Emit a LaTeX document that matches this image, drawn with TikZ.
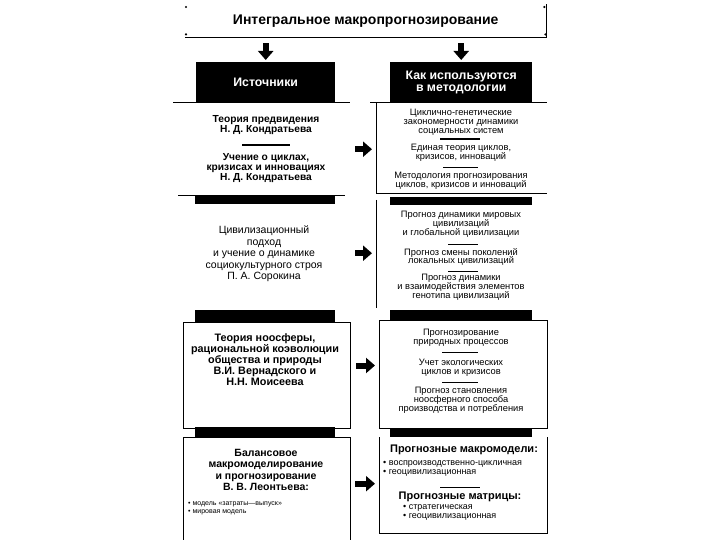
\documentclass[tikz,border=0pt]{standalone}
\usepackage{fontspec}
\setmainfont{Liberation Sans}
\usetikzlibrary{positioning,arrows.meta,calc}

\begin{document}
\begin{tikzpicture}[
            x=1pt, y=-1pt,
            font=\fontsize{9}{9}\selectfont,
            >={Triangle[width=15pt,length=9pt]},
            openframe/.style={
                    rectangle, draw=none, inner sep=0pt, anchor=north west
                },
            frame/.style={openframe, draw, line width=1pt},
            tab/.style={
                    rectangle, fill=black, inner sep=0pt, anchor=north west
                },
            headtext/.style={
                    text=white, align=center,
                    font=\fontsize{12.3}{11.5}\selectfont\bfseries
                },
            srctext/.style={align=center, font=\fontsize{10.2}{10.3}\selectfont\bfseries},
            srcplain/.style={align=center, font=\fontsize{10.5}{11.5}\selectfont},
            usetext/.style={align=center, font=\fontsize{9.3}{8.9}\selectfont},
            usehead/.style={align=center, font=\fontsize{11}{11}\selectfont\bfseries},
            bullets/.style={anchor=west, align=left, inner sep=0pt},
            frameline/.style={line width=1pt},
            sepline/.style={line width=1.3pt},
            bigarrow/.style={->, line width=6pt}
            ]

            % ===== Canvas =====
            \path[fill=white] (0,0) rectangle (720,540);
            \useasboundingbox (0,0) rectangle (720,540);

            % ===== Title =====
            \node[openframe, minimum width=361pt, minimum height=33pt] (titlebox) at (185,4) {};
            \node[font=\fontsize{14}{14}\selectfont\bfseries] (title) at (titlebox.center) {Интегральное макропрогнозирование};
            \draw[frameline] (titlebox.south west) -- (titlebox.south east) -- (titlebox.north east);
            \foreach \c/\dx/\dy in {north west/1/-3, north east/-2/-3, south west/1/3, south east/-1/3}
            \fill ([xshift=\dx pt, yshift=\dy pt]titlebox.\c) circle (1.2pt);

            % ===== Headers =====
            \node[tab, headtext, minimum width=139pt, minimum height=41pt] (srchead) at (196,62) {Источники};
            \node[tab, headtext, minimum width=142pt, minimum height=41pt] (usehead) at (390,62) {Как используются\\в методологии};

            \draw[bigarrow, shorten <=6pt, shorten >=2pt] (titlebox.south -| srchead.north) -- (srchead.north);
            \draw[bigarrow, shorten <=6pt, shorten >=2pt] (titlebox.south -| usehead.north) -- (usehead.north);

            % ===== Left column: sections =====
            \node[openframe, minimum width=174pt, minimum height=92pt] (lsec1) at (176,103) {};
            \draw[frameline] ([xshift=-3pt]lsec1.north west) -- (lsec1.north east);
            \draw[frameline] ([xshift=2pt]lsec1.south west) -- ([xshift=-5pt]lsec1.south east);
            \node[tab, minimum width=140pt, minimum height=9pt] (lbar1) at (195,195) {};

            \node[openframe, minimum width=167pt, minimum height=106pt] (lsec2) at (183,204) {};
            \node[tab, minimum width=140pt, minimum height=12pt] (lbar2) at (195,310) {};

            \node[frame, minimum width=167pt, minimum height=106pt] (lsec3) at (183,322) {};
            \node[tab, minimum width=140pt, minimum height=10pt] (lbar3) at (195,427) {};

            \node[openframe, minimum width=167pt, minimum height=103pt] (lsec4) at (183,437) {};
            \draw[frameline] (lsec4.south west) -- (lsec4.north west) -- (lsec4.north east) -- (lsec4.south east);
            \node[tab, minimum width=140pt, minimum height=10pt] at (195,427) {};

            % ===== Right column: sections =====
            \node[openframe, minimum width=171pt, minimum height=90pt] (rsec1) at (376,103) {};
            \draw[frameline] ([xshift=-6pt]rsec1.north west) -- (rsec1.north east);
            \draw[frameline] (rsec1.north west) -- (rsec1.south west) -- (rsec1.south east);
            \node[tab, minimum width=142pt, minimum height=8pt] (rbar1) at (390,197) {};

            \node[openframe, minimum width=171pt, minimum height=103pt] (rsec2) at (376,205) {};
            \draw[frameline] ([yshift=5pt]rsec2.north west) -- (rsec2.south west);
            \node[tab, minimum width=142pt, minimum height=10pt] (rbar2) at (390,310) {};

            \node[frame, minimum width=168pt, minimum height=108pt] (rsec3) at (379,320) {};
            \node[tab, minimum width=142pt, minimum height=9pt] (rbar3) at (390,428) {};

            \node[openframe, minimum width=168pt, minimum height=96pt] (rsec4) at (379,437) {};
            \draw[frameline] (rsec4.north west) -- (rsec4.south west) -- (rsec4.south east) -- (rsec4.north east);
            \node[tab, minimum width=142pt, minimum height=9pt] at (390,428) {};

            % ===== Arrows: sources -> methodology =====
            \draw[bigarrow, shorten <=5pt, shorten >=4pt] (lsec1.east) -- (lsec1.east -| rsec1.west);
            \draw[bigarrow, shorten <=5pt, shorten >=4pt] ([yshift=4pt]lsec2.east) -- ([yshift=4pt]lsec2.east -| rsec2.west);
            \draw[bigarrow, shorten <=5pt, shorten >=4pt] ([yshift=10pt]lsec3.east) -- ([yshift=10pt]lsec3.east -| rsec3.west);
            \draw[bigarrow, shorten <=5pt, shorten >=4pt] ([yshift=5pt]lsec4.east) -- ([yshift=5pt]lsec4.east -| rsec4.west);

            % ===== Left texts =====
            \node[srctext] (kondr1) at (266,125) {Теория предвидения\\Н. Д. Кондратьева};
            \draw[sepline] (242,145) -- (290,145);
            \node[srctext] (kondr2) at (266,168) {Учение о циклах,\\кризисах и инновациях\\Н. Д. Кондратьева};

            \node[srcplain] (sorokin) at (264,254) {Цивилизационный\\подход\\и учение о динамике\\социокультурного строя\\П. А. Сорокина};

            \node[srctext, font=\fontsize{10.8}{11}\selectfont\bfseries] (noosph) at (265,360) {Теория ноосферы,\\рациональной коэволюции\\общества и природы\\В.И. Вернадского и\\Н.Н. Моисеева};

            \node[srctext, font=\fontsize{10.5}{11.5}\selectfont\bfseries] (leont) at (266,470) {Балансовое\\макромоделирование\\и прогнозирование\\В. В. Леонтьева:};
            \node[bullets, font=\fontsize{7}{8}\selectfont] (leontlist) at (188,508) {• модель «затраты—выпуск»\\• мировая модель};

            % ===== Right texts: section 1 =====
            \node[usetext] (cyclgen) at (461,122) {Циклично-генетические\\закономерности динамики\\социальных систем};
            \draw[sepline] (440,139) -- (480,139);
            \node[usetext] (unitheory) at (461,153) {Единая теория циклов,\\кризисов, инноваций};
            \draw[sepline, line width=0.8pt] (443,167) -- (478,167);
            \node[usetext] (method) at (461,181) {Методология прогнозирования\\циклов, кризисов и инноваций};

            % ===== Right texts: section 2 =====
            \node[usetext] (worldciv) at (461,224) {Прогноз динамики мировых\\цивилизаций\\и глобальной цивилизации};
            \draw[sepline, line width=0.8pt] (448,244) -- (478,244);
            \node[usetext] (localciv) at (461,257) {Прогноз смены поколений\\локальных цивилизаций};
            \draw[sepline, line width=0.8pt] (448,271) -- (478,271);
            \node[usetext] (genotype) at (461,287) {Прогноз динамики\\и взаимодействия элементов\\генотипа цивилизаций};

            % ===== Right texts: section 3 =====
            \node[usetext] (nature) at (461,338) {Прогнозирование\\природных процессов};
            \draw[sepline, line width=0.8pt] (442,352) -- (478,352);
            \node[usetext] (ecology) at (461,368) {Учет экологических\\циклов и кризисов};
            \draw[sepline, line width=0.8pt] (442,382) -- (478,382);
            \node[usetext] (noomode) at (461,400) {Прогноз становления\\ноосферного способа\\производства и потребления};

            % ===== Right texts: section 4 =====
            \node[usehead] (macromod) at (464,450) {Прогнозные макромодели:};
            \node[bullets] (macrolist) at (383,468.5) {• воспроизводственно-цикличная\\• геоцивилизационная};
            \draw[sepline, line width=0.8pt] (440,487) -- (480,487);
            \node[usehead] (matrices) at (460,497) {Прогнозные матрицы:};
            \node[bullets] (matrixlist) at (403,512.5) {• стратегическая\\• геоцивилизационная};

        \end{tikzpicture}
\end{document}
